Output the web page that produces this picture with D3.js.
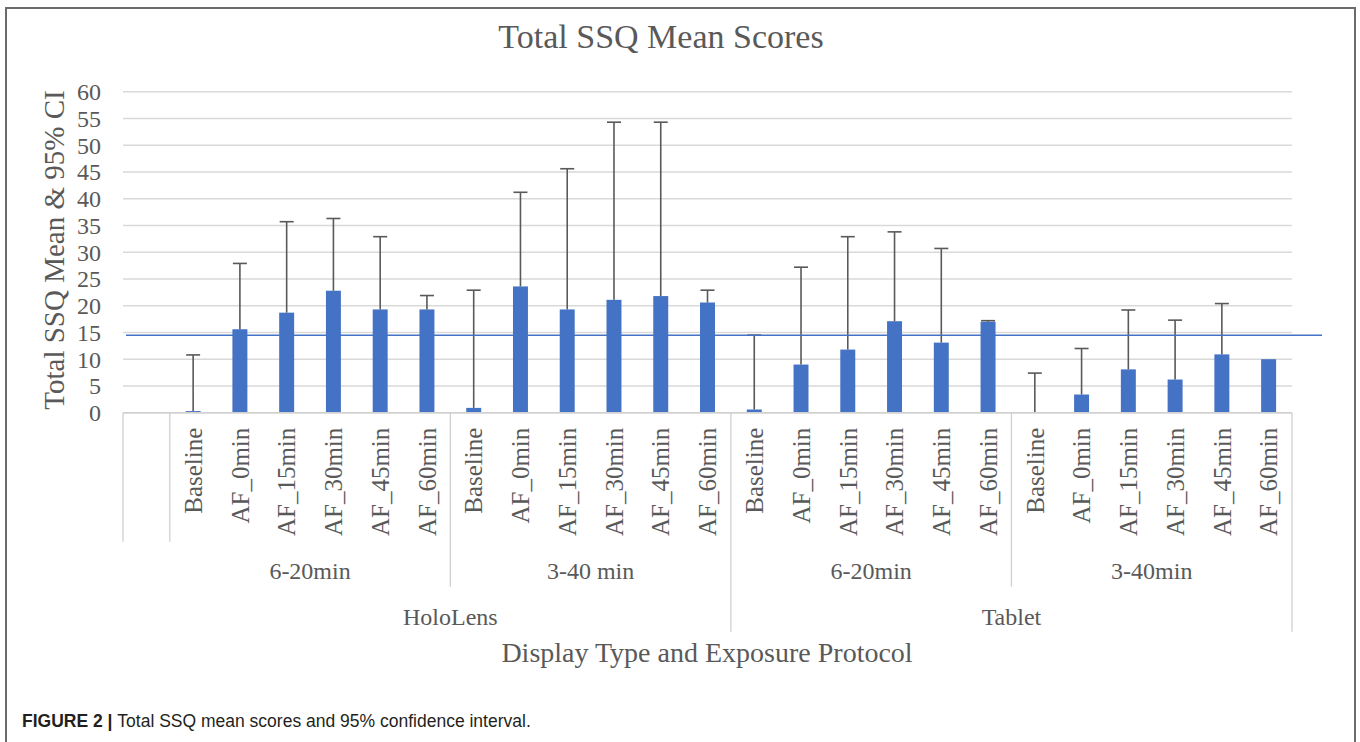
<!DOCTYPE html>
<html>
<head>
<meta charset="utf-8">
<script src="https://cdn.jsdelivr.net/npm/d3@7"></script>
<style>
  body { margin: 0; background: #fff; }
  text { font-family: "Liberation Serif", "Times New Roman", serif; fill: #595959; }
</style>
</head>
<body>
<div id="visualization"></div>
<script>
// chart data
const protocols = ["Baseline", "AF_0min", "AF_15min", "AF_30min", "AF_45min", "AF_60min"];
const exposures = ["6-20min", "3-40 min", "6-20min", "3-40min"];
const displays = ["HoloLens", "Tablet"];
const meanScores = [
    0.3, 15.6, 18.7, 22.8, 19.3, 19.3,
    0.9, 23.6, 19.3, 21.1, 21.8, 20.6,
    0.6, 9.0, 11.8, 17.1, 13.1, 17.0,
    0.05, 3.4, 8.1, 6.2, 10.9, 10.0
];
const ciUpper = [
    10.8, 27.9, 35.7, 36.3, 32.9, 21.9,
    22.9, 41.2, 45.6, 54.3, 54.3, 22.9,
    14.5, 27.2, 32.9, 33.8, 30.7, 17.2,
    7.4, 12.0, 19.2, 17.3, 20.4, null
];
const refLine = 14.5;
const yTicks = [0, 5, 10, 15, 20, 25, 30, 35, 40, 45, 50, 55, 60];

const W = 1360, H = 742;
const plotLeft = 123, plotRight = 1292, plotTop = 91.7, plotBottom = 412.7;

// one blank slot first, like the excel sheet had
const rows = [];
exposures.forEach((ex, gi) => {
    protocols.forEach((p, pi) => {
        const i = gi * protocols.length + pi;
        rows.push({ key: gi + "|" + p, label: p, group: gi, mean: meanScores[i], upper: ciUpper[i] });
    });
});
const keys = ["blank"].concat(rows.map(d => d.key));

const svg = d3.select("#visualization").append("svg")
    .attr("width", W)
    .attr("height", H);

// outer frame
svg.append("rect")
    .attr("x", 6).attr("y", 8)
    .attr("width", 1349).attr("height", 760)
    .attr("fill", "none")
    .attr("stroke", "#6b6b6b")
    .attr("stroke-width", 2);

const slot = d3.scaleBand().domain(keys).range([plotLeft, plotRight]).padding(0);
const x = d3.scaleBand().domain(keys).range([plotLeft, plotRight]).paddingInner(0.68).paddingOuter(0.34);
const y = d3.scaleLinear().domain([0, 60]).range([plotBottom, plotTop]);

// gridlines
svg.append("g")
    .selectAll("line")
    .data(yTicks)
    .enter().append("line")
    .attr("x1", plotLeft).attr("x2", plotRight)
    .attr("y1", d => y(d)).attr("y2", d => y(d))
    .attr("stroke", "#d9d9d9")
    .attr("stroke-width", 1.5);

// y tick labels
svg.append("g")
    .selectAll("text")
    .data(yTicks)
    .enter().append("text")
    .attr("x", 101)
    .attr("y", d => y(d))
    .attr("dy", "0.35em")
    .attr("text-anchor", "end")
    .style("font-size", "24px")
    .text(d => d);

// bars
svg.append("g")
    .selectAll("rect")
    .data(rows)
    .enter().append("rect")
    .attr("x", d => x(d.key))
    .attr("y", d => y(d.mean))
    .attr("width", x.bandwidth())
    .attr("height", d => y(0) - y(d.mean))
    .attr("fill", "#4472c4");

// upper error bars
const err = svg.append("g")
    .attr("stroke", "#595959")
    .attr("stroke-width", 1.6)
    .selectAll("g")
    .data(rows.filter(d => d.upper != null))
    .enter().append("g");
err.append("line")
    .attr("x1", d => x(d.key) + x.bandwidth() / 2)
    .attr("x2", d => x(d.key) + x.bandwidth() / 2)
    .attr("y1", d => y(d.mean))
    .attr("y2", d => y(d.upper));
err.append("line")
    .attr("x1", d => x(d.key) + x.bandwidth() / 2 - 7)
    .attr("x2", d => x(d.key) + x.bandwidth() / 2 + 7)
    .attr("y1", d => y(d.upper))
    .attr("y2", d => y(d.upper));

// reference line
svg.append("line")
    .attr("x1", plotLeft + 3).attr("x2", plotRight + 30)
    .attr("y1", y(refLine)).attr("y2", y(refLine))
    .attr("stroke", "#4472c4")
    .attr("stroke-width", 1.5);

// category axis
const axisColor = "#d0d0d0";
svg.append("line")
    .attr("x1", plotLeft).attr("x2", plotRight)
    .attr("y1", plotBottom).attr("y2", plotBottom)
    .attr("stroke", axisColor).attr("stroke-width", 1.5);

const lvl1 = plotBottom + 129, lvl2 = plotBottom + 174, lvl3 = plotBottom + 219;
const step = slot.step();
const seps = [
    { x: slot("blank"), y2: lvl1 },
    { x: slot(keys[1]), y2: lvl1 }
];
exposures.forEach((ex, gi) => {
    const x0 = slot(gi + "|" + protocols[0]);
    seps.push({ x: x0 + protocols.length * step, y2: gi % 2 === 0 ? lvl2 : lvl3 });
});
svg.append("g")
    .selectAll("line")
    .data(seps)
    .enter().append("line")
    .attr("x1", d => d.x).attr("x2", d => d.x)
    .attr("y1", plotBottom).attr("y2", d => d.y2)
    .attr("stroke", axisColor).attr("stroke-width", 1.3);

// protocol labels, rotated
svg.append("g")
    .selectAll("text")
    .data(rows)
    .enter().append("text")
    .attr("transform", d => "translate(" + (x(d.key) + x.bandwidth() / 2) + "," + (plotBottom + 15) + ") rotate(-90)")
    .attr("dy", "0.35em")
    .attr("text-anchor", "end")
    .style("font-size", "25px")
    .text(d => d.label);

// exposure labels
svg.append("g")
    .selectAll("text")
    .data(exposures)
    .enter().append("text")
    .attr("x", (d, gi) => slot(gi + "|" + protocols[0]) + protocols.length * step / 2)
    .attr("y", plotBottom + 166)
    .attr("text-anchor", "middle")
    .style("font-size", "24px")
    .text(d => d);

// display labels
svg.append("g")
    .selectAll("text")
    .data(displays)
    .enter().append("text")
    .attr("x", (d, di) => slot(di * 2 + "|" + protocols[0]) + protocols.length * 2 * step / 2)
    .attr("y", plotBottom + 212)
    .attr("text-anchor", "middle")
    .style("font-size", "24px")
    .text(d => d);

// titles
svg.append("text")
    .attr("x", 661).attr("y", 48)
    .attr("text-anchor", "middle")
    .style("font-size", "34px")
    .text("Total SSQ Mean Scores");

svg.append("text")
    .attr("transform", "translate(64,250) rotate(-90)")
    .attr("text-anchor", "middle")
    .style("font-size", "29px")
    .text("Total SSQ Mean & 95% CI");

svg.append("text")
    .attr("x", 707).attr("y", 662)
    .attr("text-anchor", "middle")
    .style("font-size", "28px")
    .text("Display Type and Exposure Protocol");

// figure caption
const cap = svg.append("text")
    .attr("x", 22).attr("y", 727)
    .style("font-family", "'Liberation Sans', Arial, sans-serif")
    .style("font-size", "17.5px")
    .style("fill", "#231f20");
cap.append("tspan").style("font-weight", "bold").text("FIGURE 2 | ");
cap.append("tspan").text("Total SSQ mean scores and 95% confidence interval.");
</script>
</body>
</html>
